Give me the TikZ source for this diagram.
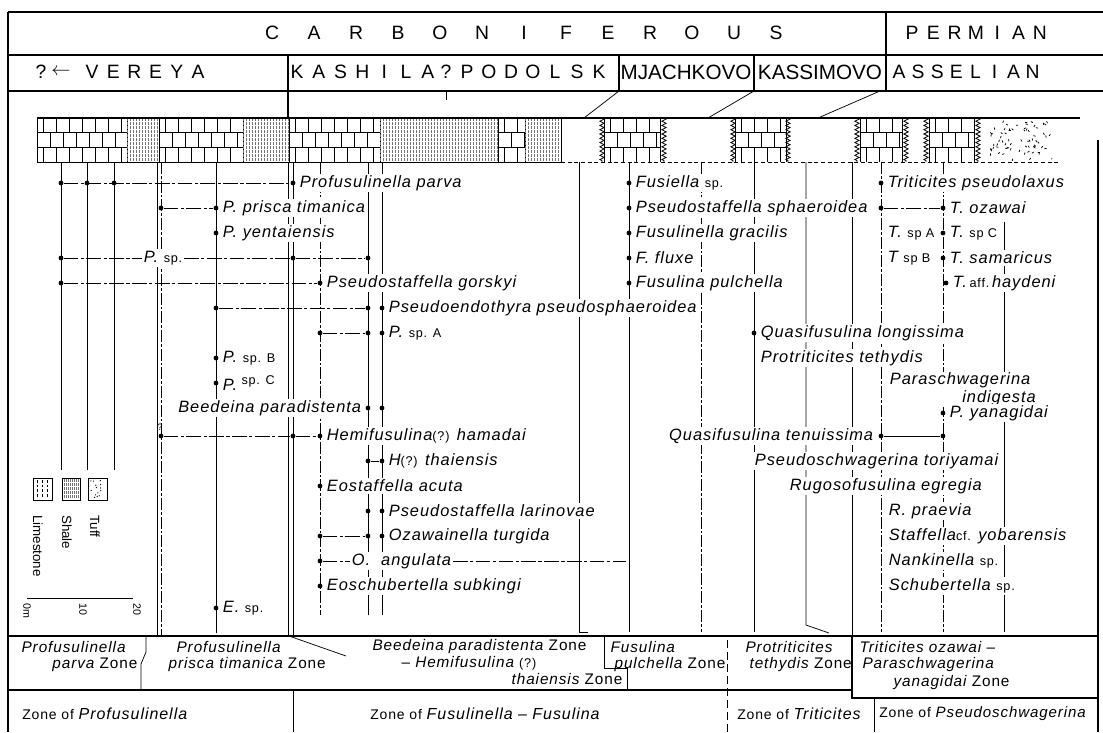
\documentclass[tikz,border=0pt]{standalone}
\usepackage{fontspec}
\setmainfont{Liberation Sans}
\newfontfamily\spf{Liberation Sans}[LetterSpace=6.0]
\usetikzlibrary{decorations.pathmorphing}
\newcommand{\uprm}[1]{{\upshape\fontsize{9.5}{11}\selectfont #1}}
\newcommand{\fdot}[3]{\node[dotn] (#1) at (#2,#3) {};}
\newcommand{\limes}[2]{%
  \begin{scope}
    \clip (#1,118) rectangle (#2,162);
    \draw[lime] (#1,132.7) -- (#2,132.7) (#1,147.3) -- (#2,147.3);
    \foreach \xx in {0,13,...,104} {
      \draw[lime] ({#1+\xx+6.5},118) -- ({#1+\xx+6.5},132.7)
                  ({#1+\xx},132.7) -- ({#1+\xx},147.3)
                  ({#1+\xx+6.5},147.3) -- ({#1+\xx+6.5},162);
    }
  \end{scope}
  \draw[lime] (#1,118) -- (#1,162) (#2,118) -- (#2,162);
}
\newcommand{\shale}[2]{%
  \begin{scope}
    \clip (#1,118) rectangle (#2,162);
    \foreach \xx in {0,3,...,122} {
      \draw[shl] ({#1+\xx},118) -- ({#1+\xx},162);
    }
  \end{scope}
}
\begin{document}
\begin{tikzpicture}[x=0.75pt,y=-0.75pt,
  frame/.style={line width=0.9pt},
  rng/.style={line width=0.55pt},
  rngd/.style={line width=0.55pt, dash pattern=on 9pt off 1.5pt on 2pt off 1.5pt},
  link/.style={line width=0.55pt, dash pattern=on 11pt off 1.8pt on 2.5pt off 1.8pt},
  slink/.style={line width=0.55pt},
  dotn/.style={circle, fill=black, inner sep=0pt, minimum size=3.6pt},
  sp/.style={anchor=west, inner sep=1.2pt, fill=white, font=\spf\itshape\fontsize{12.3}{14}\selectfont},
  hd/.style={font=\fontsize{14.5}{16}\selectfont, inner sep=0pt},
  zn/.style={anchor=west, inner sep=1pt, font=\spf\itshape\fontsize{11.5}{13}\selectfont},
  bz/.style={anchor=west, inner sep=0pt, font=\spf\fontsize{10.5}{12}\selectfont},
  lg/.style={rotate=-90, anchor=west, inner sep=0pt, font=\fontsize{10}{12}\selectfont},
  lime/.style={line width=0.5pt},
  shl/.style={line width=0.35pt, black!55, dash pattern=on 2pt off 1pt},
  wav/.style={line width=0.6pt, decorate, decoration={zigzag, segment length=3.2pt, amplitude=1.6pt}},
]
\useasboundingbox (0,0) rectangle (1103,732);
\fill[white] (0,0) rectangle (1103,732);

% ---------------- header frame
\draw[frame] (8,12) -- (1103,12);
\draw[frame] (8,55) -- (1103,55);
\draw[frame] (8,91) -- (1103,91);
\draw[frame] (8,12) -- (8,732);
\draw[frame] (886,12) -- (886,91);
\draw[frame] (288,55) -- (288,118);
\draw[frame] (619,55) -- (619,91);
\draw[frame] (754,55) -- (754,91);
\draw[rng] (446,91) -- (446,100);
\draw[rng] (619,91) -- (584,118);
\draw[rng] (754,91) -- (708,118);
\draw[rng] (880,91) -- (818,118);
\draw[frame] (1098,140) -- (1098,732);

\foreach \c [count=\i from 0] in {C,A,R,B,O,N,I,F,E,R,O,U,S}
  \node[hd] (cb\i) at ({272+42*\i},33) {\c};
\foreach \c [count=\i from 0] in {P,E,R,M,I,A,N}
  \node[hd] (pm\i) at ({912+21.3*\i},33) {\c};
\node[hd] (vq) at (41,72) {?};
\node[hd] (varr) at (61,72) {$\leftarrow$};
\foreach \c [count=\i from 0] in {V,E,R,E,Y,A}
  \node[hd] (ve\i) at ({92+21.2*\i},72) {\c};
\foreach \c [count=\i from 0] in {K,A,S,H,I,L,A}
  \node[hd] (ka\i) at ({297+21.8*\i},72) {\c};
\node[hd] (kq) at (446,72) {?};
\foreach \c [count=\i from 0] in {P,O,D,O,L,S,K}
  \node[hd] (po\i) at ({467+22*\i},72) {\c};
\node[hd, font=\fontsize{15.5}{17}\selectfont] (mj) at (686,72) {MJACHKOVO};
\node[hd, font=\fontsize{15.5}{17}\selectfont] (ks) at (820,72) {KASSIMOVO};
\foreach \c [count=\i from 0] in {A,S,S,E,L,I,A,N}
  \node[hd] (as\i) at ({899+19.1*\i},72) {\c};

% ---------------- lithology bar
\limes{37}{127}
\shale{127}{159}
\limes{159}{243}
\shale{243}{289}
\limes{289}{380}
\shale{380}{498}
\limes{498}{525}
\shale{525}{561}
\draw[lime] (561,118) -- (561,162);
\limes{604}{660}
\limes{735}{786}
\limes{860}{902}
\limes{929}{974}
\draw[wav] (602,118) -- (602,162);
\draw[wav] (664,118) -- (664,162);
\draw[wav] (733,118) -- (733,162);
\draw[wav] (788,118) -- (788,162);
\draw[wav] (857,118) -- (857,162);
\draw[wav] (906,118) -- (906,162);
\draw[wav] (926,118) -- (926,162);
\draw[wav] (978,118) -- (978,162);
\begin{scope}
  \clip (990,120) rectangle (1052,161);
  \pgfmathsetseed{11}
  \foreach \i in {1,...,70} {
    \pgfmathsetmacro{\tx}{990+62*rnd}
    \pgfmathsetmacro{\ty}{121+39*rnd}
    \pgfmathsetmacro{\ta}{360*rnd}
    \draw[line width=0.55pt] (\tx,\ty) -- ++(\ta:2.2);
  }
\end{scope}
\draw[frame] (37,118) -- (1080,118);
\draw[line width=0.7pt] (37,118) -- (37,162) -- (561,162);
\draw[line width=0.6pt, dash pattern=on 3pt off 2pt] (561,162) -- (1060,162);

% ---------------- range lines
\draw[rng] (61,162) -- (61,470);
\draw[rng] (87,162) -- (87,470);
\draw[rng] (114,162) -- (114,470);
\draw[rng] (157,162) -- (157,636);
\draw[rngd] (161,162) -- (161,636);
\draw[rng] (216,162) -- (216,633);
\draw[rng] (288,162) -- (288,636);
\draw[rng] (293,162) -- (293,636);
\draw[rngd] (320,162) -- (320,615);
\draw[rng] (368,162) -- (368,615);
\draw[rng] (382,162) -- (382,615);
\draw[rng] (579,162) -- (579,632) -- (588,632);
\draw[rng] (629,162) -- (629,632);
\draw[rngd] (701,162) -- (701,632);
\draw[rng] (754,162) -- (754,632);
\draw[rng] (806,162) -- (806,625) -- (829,633);
\draw[rng] (852,162) -- (852,636);
\draw[rngd] (881,162) -- (881,632);
\draw[rngd] (943,162) -- (943,632);
\draw[rng] (1004,222) -- (1004,632);

% ---------------- zone rows
\draw[frame] (8,636) -- (1098,636);
\draw[frame] (8,690) -- (852,690);
\draw[frame] (852,636) -- (852,698) -- (1098,698);
\draw[rng] (874,698) -- (874,732);
\draw[rng, dash pattern=on 6pt off 3pt] (727,640) -- (727,732);
\draw[rng] (604,636) -- (604,668) -- (627,668) -- (627,690);
\draw[rng] (146,636) -- (146,652) -- (141,664) -- (141,690);
\draw[rng] (289,636) -- (346,656);
\draw[rng] (293,690) -- (293,732);

\node[zn] (z1a) at (20,647) {Profusulinella};
\node[zn, anchor=east] (z1b) at (139,665) {parva {\upshape Zone}};
\node[zn] (z2a) at (175,647) {Profusulinella};
\node[zn] (z2b) at (167,665) {prisca timanica {\upshape Zone}};
\node[zn] (z3a) at (371,647) {Beedeina paradistenta {\upshape Zone}};
\node[zn] (z3b) at (400,663) {{\upshape –} Hemifusulina \uprm{(?)}};
\node[zn, anchor=east] (z3c) at (624,679) {thaiensis {\upshape Zone}};
\node[zn] (z4a) at (609,647) {Fusulina};
\node[zn] (z4b) at (613,665) {pulchella {\upshape Zone}};
\node[zn] (z5a) at (744,647) {Protriticites};
\node[zn] (z5b) at (748,665) {tethydis {\upshape Zone}};
\node[zn] (z6a) at (858,647) {Triticites ozawai {\upshape –}};
\node[zn] (z6b) at (861,665) {Paraschwagerina};
\node[zn] (z6c) at (892,683) {yanagidai {\upshape Zone}};

\node[bz] (bz1) at (22,714) {Zone of {\itshape\fontsize{12}{13}\selectfont Profusulinella}};
\node[bz] (bz2) at (370,714) {Zone of {\itshape\fontsize{12}{13}\selectfont Fusulinella – Fusulina}};
\node[bz] (bz3) at (737,714) {Zone of {\itshape\fontsize{12}{13}\selectfont Triticites}};
\node[bz] (bz4) at (879,714) {Zone of {\itshape\fontsize{11.3}{13}\selectfont Pseudoschwagerina}};

% ---------------- legend
\draw[lime] (33,478) rectangle (52,500);
\foreach \xx in {37,42,47} \draw[line width=0.4pt, dash pattern=on 2pt off 1.5pt] (\xx,480) -- (\xx,498);
\draw[lime] (62,478) rectangle (80,500);
\foreach \xx in {64,66,...,78} \draw[shl] (\xx,479) -- (\xx,499);
\draw[lime] (88,478) rectangle (107,500);
\begin{scope}
  \pgfmathsetseed{5}
  \foreach \i in {1,...,14} {
    \pgfmathsetmacro{\tx}{90+15*rnd}
    \pgfmathsetmacro{\ty}{480+18*rnd}
    \fill (\tx,\ty) circle (0.5pt);
  }
\end{scope}
\node[lg] (lgl) at (38,515) {Limestone};
\node[lg] (lgs) at (67,515) {Shale};
\node[lg] (lgt) at (95,515) {Tuff};
\draw[line width=0.6pt] (27,598) -- (133,598);
\node[lg, font=\fontsize{8}{9}\selectfont] (sc0) at (27,603) {0m};
\node[lg, font=\fontsize{8}{9}\selectfont] (sc1) at (83,603) {10};
\node[lg, font=\fontsize{8}{9}\selectfont] (sc2) at (137,603) {20};

% ---------------- left species
\fdot{a1}{61}{183} \fdot{a2}{87}{183} \fdot{a3}{114}{183} \fdot{a4}{293}{183}
\draw[link] (a1) -- (a4);
\node[sp] (ta) at (298,183) {Profusulinella parva};

\fdot{b1}{161}{208} \fdot{b2}{216}{208}
\draw[link] (b1) -- (b2);
\node[sp] (tb) at (221,208) {P. prisca timanica};

\fdot{c1}{216}{233}
\node[sp] (tc) at (221,233) {P. yentaiensis};

\fdot{d1}{61}{258} \fdot{d2}{293}{258} \fdot{d3}{368}{258}
\node[sp] (td) at (142,258) {P. \uprm{sp.}};
\draw[link] (d1) -- (td.west);
\draw[link] (td.east) -- (d2);
\draw[link] (d2) -- (d3);

\fdot{e1}{61}{283} \fdot{e2}{320}{283}
\draw[link] (e1) -- (e2);
\node[sp] (te) at (325,283) {Pseudostaffella gorskyi};

\fdot{f1}{216}{308} \fdot{f2}{368}{308} \fdot{f3}{382}{308}
\draw[link] (f1) -- (f2);
\node[sp] (tf) at (387,308) {Pseudoendothyra pseudosphaeroidea};

\fdot{g1}{320}{333} \fdot{g2}{368}{333} \fdot{g3}{382}{333}
\draw[link] (g1) -- (g2);
\node[sp] (tg) at (387,333) {P. \uprm{sp. A}};

\fdot{h1}{216}{358}
\node[sp] (th) at (221,358) {P. \uprm{sp. B}};

\fdot{i1}{216}{383}
\node[sp] (ti) at (221,383) {P.\raisebox{4pt}{\uprm{ sp. C}}};

\fdot{j1}{368}{408} \fdot{j2}{382}{408}
\node[sp, anchor=east] (tj) at (363,408) {Beedeina paradistenta};

\fdot{k1}{161}{436} \fdot{k2}{293}{436} \fdot{k3}{320}{436}
\node[inner sep=0pt, font=\fontsize{7}{8}\selectfont] (kqm) at (160,427) {?};
\draw[link] (k1) -- (k2);
\draw[link] (k2) -- (k3);
\node[sp] (tk) at (325,436) {Hemifusulina\uprm{(?)} hamadai};

\fdot{l1}{368}{461} \fdot{l2}{382}{461}
\draw[slink] (l1) -- (l2);
\node[sp] (tl) at (387,461) {H\uprm{(?)} thaiensis};

\fdot{m1}{320}{486}
\node[sp] (tm) at (325,486) {Eostaffella acuta};

\fdot{n1}{368}{511} \fdot{n2}{382}{511}
\node[sp] (tn) at (387,511) {Pseudostaffella larinovae};

\fdot{o1}{320}{536} \fdot{o2}{368}{536} \fdot{o3}{382}{536}
\draw[link] (o1) -- (o2);
\node[sp] (to) at (387,536) {Ozawainella turgida};

\fdot{p1}{320}{561}
\node[sp] (tp) at (350,561) {O.\ \ angulata};
\coordinate (p2) at (626,561);
\draw[link] (p1) -- (tp.west);
\draw[link] (tp.east) -- (p2);

\fdot{q1}{320}{586}
\node[sp] (tq) at (325,586) {Eoschubertella subkingi};

\fdot{s1}{216}{608}
\node[sp] (ts) at (221,608) {E. \uprm{sp.}};

% ---------------- right species
\fdot{F1}{629}{183} \node[sp] (tF1) at (634,183) {Fusiella \uprm{sp.}};
\fdot{F2}{629}{208} \node[sp] (tF2) at (634,208) {Pseudostaffella sphaeroidea};
\fdot{F3}{629}{233} \node[sp] (tF3) at (634,233) {Fusulinella gracilis};
\fdot{F4}{629}{258} \node[sp] (tF4) at (634,258) {F. fluxe};
\fdot{F5}{629}{283} \node[sp] (tF5) at (634,283) {Fusulina pulchella};

\fdot{T1}{881}{183} \node[sp] (tT1) at (886,183) {Triticites pseudolaxus};
\fdot{T2a}{881}{208} \fdot{T2b}{943}{208}
\draw[link] (T2a) -- (T2b);
\node[sp] (tT2) at (948,208) {T. ozawai};
\node[sp] (tTa) at (886,233) {T. \uprm{sp A}};
\fdot{T3}{943}{233} \node[sp] (tT3) at (948,233) {T. \uprm{sp C}};
\node[sp] (tTb) at (886,258) {T \uprm{sp B}};
\fdot{T4}{943}{258} \node[sp] (tT4) at (948,258) {T. samaricus};
\fdot{T5}{946}{283} \node[sp] (tT5) at (951,283) {T.\,\uprm{aff.}\,haydeni};

\fdot{Q1}{754}{333} \node[sp] (tQ1) at (759,333) {Quasifusulina longissima};
\node[sp] (tPt) at (759,358) {Protriticites tethydis};
\fill[white] (886,372) rectangle (1048,407);
\node[sp, fill=none] (tPa) at (888,380) {Paraschwagerina};
\node[sp, fill=none, inner sep=0pt] (tPi) at (962,398) {indigesta};
\fdot{Y1}{943}{413} \node[sp] (tY1) at (948,413) {P. yanagidai};
\fdot{Qt1}{881}{436} \fdot{Qt2}{943}{436}
\draw[slink] (Qt1) -- (Qt2);
\node[sp, anchor=east] (tQt) at (875,436) {Quasifusulina tenuissima};
\node[sp] (tPs) at (753,461) {Pseudoschwagerina toriyamai};
\node[sp] (tRe) at (788,486) {Rugosofusulina egregia};
\node[sp] (tRp) at (887,511) {R. praevia};
\node[sp] (tSy) at (887,536) {Staffella\uprm{cf.} yobarensis};
\node[sp] (tNk) at (887,561) {Nankinella \uprm{sp.}};
\node[sp] (tSc) at (887,586) {Schubertella \uprm{sp.}};
\end{tikzpicture}
\end{document}
